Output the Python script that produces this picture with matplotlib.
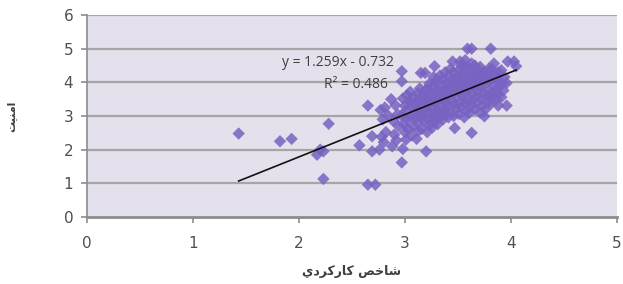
import numpy as np
import matplotlib
matplotlib.use('Agg')
import matplotlib.pyplot as plt

# performance index (x) and security (y)
perf = [
    1.43, 1.82, 1.93, 2.17, 2.20, 2.23, 2.28, 2.23, 2.65, 2.72,
    2.57, 2.65, 2.69, 2.69, 2.97, 3.20, 3.47, 3.63, 3.59, 3.63,
    3.81, 3.97, 4.03, 4.05, 3.96, 3.96, 3.88, 2.97, 2.97, 3.15,
    3.19, 3.28, 3.45, 3.52, 3.75,
    2.76, 2.80, 2.78, 2.82, 2.79, 2.84, 2.77, 2.81,
    2.88, 2.92, 2.90, 2.94, 2.89, 2.93, 2.91, 2.87,
    2.98, 3.01, 3.00, 3.03, 2.99, 3.02, 2.97, 3.01, 3.00, 3.04, 2.98, 3.02,
    3.06, 3.08, 3.05, 3.09, 3.07, 3.06, 3.08, 3.05,
    3.11, 3.13, 3.12, 3.10, 3.14, 3.12, 3.11, 3.13, 3.12, 3.14,
    3.16, 3.18, 3.17, 3.19, 3.16, 3.18, 3.17, 3.19,
    3.21, 3.23, 3.22, 3.24, 3.21, 3.23, 3.22, 3.24, 3.21, 3.23,
    3.26, 3.28, 3.27, 3.29, 3.26, 3.28, 3.27, 3.29, 3.26, 3.28, 3.27,
    3.31, 3.33, 3.32, 3.34, 3.31, 3.33, 3.32, 3.34, 3.31, 3.33,
    3.36, 3.38, 3.37, 3.39, 3.36, 3.38, 3.37, 3.39, 3.36, 3.38,
    3.41, 3.43, 3.42, 3.44, 3.41, 3.43, 3.42, 3.44, 3.41, 3.43,
    3.46, 3.48, 3.47, 3.49, 3.46, 3.48, 3.47, 3.49, 3.46,
    3.51, 3.53, 3.52, 3.54, 3.51, 3.53, 3.52, 3.54, 3.51, 3.53,
    3.56, 3.58, 3.57, 3.59, 3.56, 3.58, 3.57, 3.59, 3.56, 3.58, 3.57,
    3.61, 3.63, 3.62, 3.64, 3.61, 3.63, 3.62, 3.64, 3.61, 3.63,
    3.66, 3.68, 3.67, 3.69, 3.66, 3.68, 3.67, 3.69, 3.66,
    3.71, 3.73, 3.72, 3.74, 3.71, 3.73, 3.72, 3.74, 3.71,
    3.76, 3.78, 3.77, 3.79, 3.76, 3.78, 3.77, 3.79,
    3.81, 3.83, 3.82, 3.84, 3.81, 3.83, 3.82, 3.84,
    3.86, 3.88, 3.87, 3.89, 3.86, 3.88,
    3.91, 3.93, 3.92, 3.94, 3.91,
]
safety = [
    2.48, 2.25, 2.32, 1.85, 2.00, 1.95, 2.77, 1.13, 0.96, 0.96,
    2.13, 3.31, 2.40, 1.95, 1.62, 1.95, 2.64, 2.50, 5.00, 5.00,
    5.00, 4.62, 4.62, 4.48, 3.98, 3.31, 3.31, 4.33, 4.03, 4.28,
    4.28, 4.48, 4.62, 4.62, 2.99,
    2.00, 2.22, 2.38, 2.52, 2.90, 3.02, 3.18, 3.25,
    2.10, 2.28, 2.45, 2.70, 2.85, 3.05, 3.32, 3.50,
    2.02, 2.30, 2.52, 2.62, 2.76, 2.92, 3.00, 3.16, 3.30, 3.44, 3.52, 3.62,
    2.42, 2.70, 2.96, 3.10, 3.26, 3.40, 3.56, 3.72,
    2.32, 2.56, 2.80, 2.94, 3.06, 3.22, 3.36, 3.50, 3.66, 3.82,
    2.62, 2.86, 3.00, 3.16, 3.30, 3.46, 3.60, 3.76,
    2.52, 2.72, 2.90, 3.06, 3.20, 3.36, 3.50, 3.66, 3.80, 3.96,
    2.66, 2.82, 3.00, 3.12, 3.26, 3.40, 3.56, 3.70, 3.86, 4.00, 4.16,
    2.76, 2.96, 3.14, 3.30, 3.46, 3.60, 3.76, 3.90, 4.06, 4.20,
    2.90, 3.06, 3.20, 3.36, 3.50, 3.66, 3.80, 3.96, 4.10, 4.30,
    2.96, 3.10, 3.30, 3.46, 3.60, 3.76, 3.90, 4.06, 4.20, 4.40,
    3.00, 3.20, 3.36, 3.56, 3.70, 3.86, 4.00, 4.16, 4.30,
    3.06, 3.26, 3.40, 3.60, 3.76, 3.90, 4.06, 4.20, 4.36, 4.50,
    2.96, 3.16, 3.36, 3.50, 3.70, 3.86, 4.00, 4.16, 4.30, 4.46, 4.66,
    3.10, 3.30, 3.46, 3.66, 3.80, 3.96, 4.10, 4.26, 4.40, 4.56,
    3.20, 3.40, 3.56, 3.76, 3.90, 4.06, 4.20, 4.36, 4.50,
    3.10, 3.30, 3.50, 3.66, 3.86, 4.00, 4.16, 4.30, 4.46,
    3.20, 3.40, 3.60, 3.76, 3.96, 4.10, 4.26, 4.40,
    3.36, 3.56, 3.70, 3.90, 4.06, 4.20, 4.40, 4.56,
    3.50, 3.66, 3.80, 4.00, 4.16, 4.30,
    3.56, 3.76, 3.96, 4.16, 4.36,
]
slope = 1.259
intercept = -0.732
r2 = 0.486

# Persian labels, written in shaped presentation forms, visual order
xlabel = '\uFEF1\uFEA9\uFEAE\uFB90\uFEAD\uFE8E\uFB90 \uFEBA\uFEA7\uFE8E\uFEB7'
ylabel = '\uFE96\uFEF4\uFEE8\uFEE3\uFE8D'

fig = plt.figure(figsize=(6.23, 2.84), dpi=100)
ax = fig.add_axes([0.140, 0.236, 0.850, 0.711])
ax.set_facecolor('#E4E0EC')

for y in range(1, 7):
    ax.axhline(y, color='#A6A6A6', lw=1.6, zorder=1)

ax.scatter(perf, safety, marker='D', s=40, color='#7862C2', alpha=0.85,
           edgecolors='none', zorder=3)

xs = np.array([min(perf), max(perf)])
ax.plot(xs, slope * xs + intercept, color='#111111', lw=1.2, zorder=4)

ax.text(2.37, 4.6, f'y = {slope}x - {abs(intercept)}', ha='center', va='center',
        fontsize=10, color='#404040', family='Open Sans', zorder=5)
ax.text(2.54, 3.93, f'R\u00b2 = {r2}', ha='center', va='center',
        fontsize=10, color='#404040', family='Open Sans', zorder=5)

ax.set_xlim(0, 5)
ax.set_ylim(0, 6)
ax.set_xticks(range(6))
ax.set_yticks(range(7))
for side in ['top', 'right']:
    ax.spines[side].set_visible(False)
ax.spines['left'].set_color('#8C8C8C')
ax.spines['left'].set_linewidth(1.2)
ax.spines['bottom'].set_color('#8C8C8C')
ax.spines['bottom'].set_linewidth(2)
ax.tick_params(axis='both', colors='#8C8C8C', length=4, width=1.2,
               labelcolor='#505050', labelsize=11)
ax.tick_params(axis='x', pad=10)
ax.tick_params(axis='y', pad=6)

ax.set_xlabel(xlabel, family='DejaVu Sans', fontsize=9, fontweight='bold',
              color='#404040', labelpad=10)
ax.set_ylabel(ylabel, family='DejaVu Sans', fontsize=8, fontweight='bold',
              color='#404040', labelpad=34)

fig.savefig('out.png', dpi=100)
